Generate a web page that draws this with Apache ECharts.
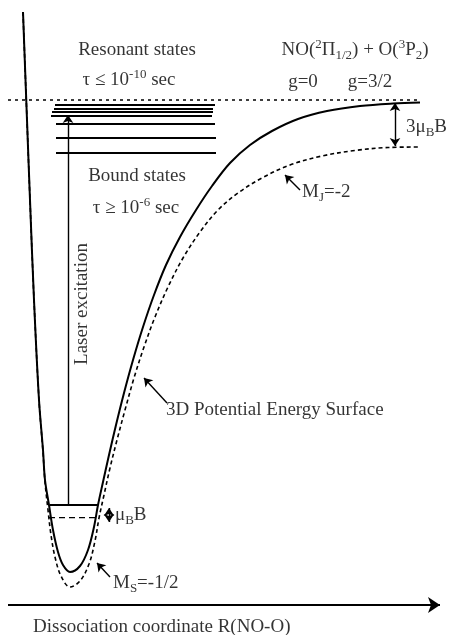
<!DOCTYPE html>
<html>
<head>
<meta charset="utf-8">
<script src="https://cdn.jsdelivr.net/npm/echarts@6/dist/echarts.min.js"></script>
<style>
  html, body { margin: 0; padding: 0; background: #fff; }
  #chart { width: 452px; height: 635px; }
</style>
</head>
<body>
<div id="chart"></div>
<script>
// potential curves as [R, E] (E grows downwards)
const surfaceSolid = [
  [23, 12], [27, 120], [30, 200], [34, 300], [39, 400], [43, 450], [45, 480],
  [49, 505], [53, 530], [58, 552], [63, 565], [70, 572], [80, 566], [88, 550],
  [94, 527], [98, 505], [103, 482], [109, 455], [116, 425], [124, 393],
  [133, 360], [143, 327], [154, 295], [166, 265], [180, 237], [196, 210],
  [212, 186], [230, 163], [250, 145], [272, 131], [298, 119], [327, 111],
  [360, 106], [393, 103.5], [420, 102.5]
]
const surfaceShifted = [
  [23, 12], [27, 120], [30, 200], [34, 300], [39, 400], [43, 452], [45, 482],
  [48, 510], [51, 535], [55, 557], [61, 576], [70, 587], [80, 581], [89, 564],
  [95, 541], [99, 518], [104, 495], [110, 468], [117, 440], [125, 410],
  [134, 378], [144, 347], [155, 317], [168, 287], [183, 258], [200, 232],
  [218, 210], [238, 193], [262, 178], [290, 165], [322, 156], [355, 150.5],
  [388, 147.5], [420, 147]
]
// bound state levels near threshold
const boundLevels = [105, 108.5, 112, 115.5, 124, 137.5, 152.5]
const levelStart = [55, 54, 52, 51, 56, 56, 56]
const levelEnd = [215, 213, 213, 212, 215, 216, 216]
// ground level (solid) and its Zeeman partner (dashed)
const groundLevel = [[50, 505], [98, 505]]
const groundShifted = [[49, 517.7], [96, 517.7]]
const threshold = [[8, 100], [420, 100]]

const textFont = 'Liberation Serif, "DejaVu Serif", serif'

var myChart = echarts.init(document.getElementById('chart'))

function seg(a, b) {
  return { coords: [a, b] }
}

const rich = {
  sup: { fontSize: 13, lineHeight: 12, verticalAlign: 'top', fontFamily: textFont, color: '#000' },
  sub: { fontSize: 13, lineHeight: 12, verticalAlign: 'bottom', fontFamily: textFont, color: '#000' }
}

// annotation texts: [text, R, E, where]
const notes = [
  ['Resonant states', 137, 50, 'inside'],
  ['τ ≤ 10{sup|-10} sec', 129, 80, 'inside'],
  ['NO({sup|2}Π{sub|1/2}) + O({sup|3}P{sub|2})', 355, 50, 'inside'],
  ['g=0', 303, 82, 'inside'],
  ['g=3/2', 370, 82, 'inside'],
  ['3μ{sub|B}B', 406, 127, 'right'],
  ['Bound states', 137, 176, 'inside'],
  ['τ ≥ 10{sup|-6} sec', 136, 208, 'inside'],
  ['M{sub|J}=-2', 302, 192, 'right'],
  ['3D Potential Energy Surface', 166, 410, 'right'],
  ['μ{sub|B}B', 115, 515, 'right'],
  ['M{sub|S}=-1/2', 113, 583, 'right'],
  ['Dissociation coordinate R(NO-O)', 33, 627, 'right']
]

const option = {
  backgroundColor: '#fff',
  animation: false,
  grid: { left: 0, right: 0, top: 0, bottom: 0 },
  xAxis: { type: 'value', min: 0, max: 452, show: false },
  yAxis: { type: 'value', min: 0, max: 635, inverse: true, show: false },
  series: [
    {
      type: 'line',
      data: surfaceSolid,
      smooth: 0.35,
      symbol: 'none',
      lineStyle: { color: '#000', width: 2 }
    },
    {
      type: 'line',
      data: surfaceShifted,
      smooth: 0.35,
      symbol: 'none',
      lineStyle: { color: '#000', width: 1.6, type: [4, 3] }
    },
    {
      type: 'line',
      data: threshold,
      symbol: 'none',
      lineStyle: { color: '#000', width: 1.6, type: [3, 4] }
    },
    {
      type: 'line',
      data: groundShifted,
      symbol: 'none',
      lineStyle: { color: '#000', width: 1.3, type: [6, 4] }
    },
    {
      // bound levels and the ground level
      type: 'lines',
      coordinateSystem: 'cartesian2d',
      symbol: 'none',
      lineStyle: { color: '#000', width: 1.8, opacity: 1 },
      data: boundLevels.map(function (y, i) {
        return seg([levelStart[i], y], [levelEnd[i], y])
      }).concat([seg(groundLevel[0], groundLevel[1])])
    },
    {
      // single arrows
      type: 'lines',
      coordinateSystem: 'cartesian2d',
      symbol: ['none', 'arrow'],
      symbolSize: 8,
      lineStyle: { color: '#000', width: 1.4, opacity: 1 },
      data: [
        seg([68, 505], [68, 115]),
        seg([300, 190], [285, 175]),
        seg([167, 403], [144, 378]),
        seg([110, 577], [97, 563])
      ]
    },
    {
      // double arrows
      type: 'lines',
      coordinateSystem: 'cartesian2d',
      symbol: ['arrow', 'arrow'],
      symbolSize: 8,
      lineStyle: { color: '#000', width: 1.4, opacity: 1 },
      data: [seg([395, 103], [395, 146]), seg([109, 508], [109, 522])]
    },
    {
      // R axis
      type: 'lines',
      coordinateSystem: 'cartesian2d',
      symbol: ['none', 'arrow'],
      symbolSize: [7, 12],
      lineStyle: { color: '#000', width: 1.8, opacity: 1 },
      data: [seg([8, 605], [440, 605])]
    },
    {
      type: 'scatter',
      symbolSize: 0,
      silent: true,
      data: notes.map(function (n) {
        return {
          value: [n[1], n[2]],
          label: {
            show: true,
            position: n[3],
            distance: 0,
            formatter: n[0],
            color: '#000',
            fontSize: 19,
            lineHeight: 24,
            fontFamily: textFont,
            rich: rich
          }
        }
      }).concat([{
        value: [82, 304],
        label: {
          show: true,
          position: 'inside',
          rotate: 90,
          formatter: 'Laser excitation',
          color: '#000',
          fontSize: 19,
          fontFamily: textFont
        }
      }])
    }
  ]
}

myChart.setOption(option)
</script>
</body>
</html>
